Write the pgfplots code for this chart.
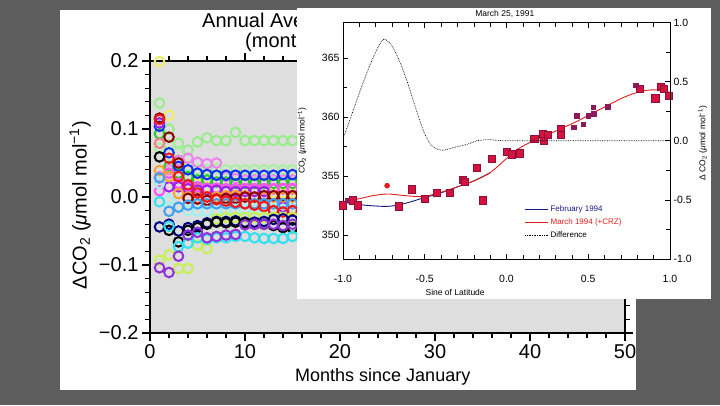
\documentclass[border=0pt]{standalone}
\usepackage{fontspec}
\setmainfont{Liberation Sans}
\usepackage{pgfplots}
\pgfplotsset{compat=1.18}
\definecolor{slidegray}{RGB}{94,94,94}
\definecolor{plotgray}{RGB}{222,222,222}
\definecolor{cyellow}{HTML}{EDED6A}
\definecolor{clgreen}{HTML}{98EC8C}
\definecolor{cmaroon}{HTML}{8B0000}
\definecolor{cred}{HTML}{F01818}
\definecolor{cpurple}{HTML}{A020F0}
\definecolor{cblue}{HTML}{1030F0}
\definecolor{cgreen}{HTML}{28C828}
\definecolor{csalmon}{HTML}{F08080}
\definecolor{clgreentwo}{HTML}{A8F0A0}
\definecolor{corange}{HTML}{FFA030}
\definecolor{cpink}{HTML}{EE82EE}
\definecolor{cskyblue}{HTML}{40A0F0}
\definecolor{cmagenta}{HTML}{FF50FF}
\definecolor{ccyan}{HTML}{30E0F0}
\definecolor{clcyan}{HTML}{A0F0F0}
\definecolor{cnavy}{HTML}{000080}
\definecolor{cygreen}{HTML}{C8F050}
\definecolor{cpurpletwo}{HTML}{9030D8}
\definecolor{febnavy}{HTML}{1A1A80}
\definecolor{marred}{HTML}{E0201C}
\definecolor{sqfill}{HTML}{D4143C}
\definecolor{sqdraw}{HTML}{8B1040}
\definecolor{smsq}{HTML}{8B1A5A}
\begin{document}
\begin{tikzpicture}
\useasboundingbox (0pt,0pt) rectangle (720pt,405pt);
\fill[slidegray] (0pt,0pt) rectangle (720pt,405pt);
\fill[white] (60pt,15pt) rectangle (636pt,395pt);
\node[anchor=west, font=\fontsize{20}{24}\selectfont, inner sep=0pt] at (202pt,383pt) {Annual Average Offsets};
\node[anchor=west, font=\fontsize{20}{24}\selectfont, inner sep=0pt] at (245pt,363pt) {(monthly means)};
\begin{axis}[
  at={(150pt,72pt)}, anchor=south west, scale only axis,
  width=475pt, height=272pt,
  xmin=0, xmax=50, ymin=-0.2, ymax=0.2,
  axis background/.style={fill=plotgray},
  xtick={0,10,20,30,40,50}, minor x tick num=4,
  ytick={-0.2,-0.1,0,0.1,0.2}, minor y tick num=4,
  yticklabels={−0.2,−0.1,0.0,0.1,0.2},
  tick align=outside,
  major tick length=8pt, minor tick length=5pt,
  axis line style={line width=1.2pt},
  every tick/.style={line width=1.2pt, black},
  ticklabel style={font=\fontsize{20}{24}\selectfont},
  /pgf/number format/assume math mode=true,
  xlabel={Months since January},
  ylabel={ΔCO\textsubscript{2} (\textit{μ}mol mol\textsuperscript{−1})},
  xlabel style={font=\fontsize{18}{22}\selectfont, at={(axis description cs:0.49,-0.162)}, anchor=center},
  ylabel style={font=\fontsize{20}{24}\selectfont, at={(axis description cs:-0.147,0.47)}, anchor=center},
  every axis plot/.append style={only marks, mark=o, mark size=4.8pt, line width=2pt},
  clip=true,
]
\addplot[cyellow] coordinates {(1,.199)(2,.120)(3,.052)(4,.030)(5,.020)(6,.015)(7,.012)(8,.010)(9,.010)(10,.008)(11,.008)(12,.008)(13,.006)(14,.006)(15,.006)(16,.006)};
\addplot[clgreen] coordinates {(1,.138)(2,.100)(3,.079)(4,.069)(5,.081)(6,.087)(7,.083)(8,.083)(9,.095)(10,.083)(11,.083)(12,.083)(13,.083)(14,.083)(15,.083)(16,.083)};
\addplot[clgreentwo] coordinates {(1,.072)(2,.077)(3,.065)(4,.045)(5,.040)(6,.040)(7,.042)(8,.040)(9,.040)(10,.040)(11,.040)(12,.040)(13,.040)(14,.040)(15,.040)(16,.040)};
\addplot[cpink] coordinates {(1,.030)(2,.040)(3,.054)(4,.057)(5,.051)(6,.049)(7,.050)(8,.030)(9,.027)(10,.025)(11,.025)(12,.025)(13,.025)(14,.025)(15,.025)(16,.025)};
\addplot[cgreen] coordinates {(1,.093)(2,.045)(3,.035)(4,.030)(5,.025)(6,.025)(7,.022)(8,.022)(9,.020)(10,.020)(11,.020)(12,.020)(13,.020)(14,.020)(15,.020)(16,.020)};
\addplot[cblue] coordinates {(1,.104)(2,.065)(3,.045)(4,.040)(5,.035)(6,.033)(7,.032)(8,.032)(9,.032)(10,.032)(11,.032)(12,.032)(13,.032)(14,.033)(15,.033)(16,.033)};
\addplot[csalmon] coordinates {(1,.079)(2,.035)(3,.020)(4,.015)(5,.012)(6,.012)(7,.012)(8,.012)(9,.012)(10,.012)(11,.012)(12,.012)(13,.012)(14,.012)(15,.012)(16,.012)};
\addplot[cmagenta] coordinates {(1,.009)(2,.035)(3,.020)(4,.015)(5,.015)(6,.013)(7,.013)(8,.012)(9,.012)(10,.012)(11,.012)(12,.012)(13,.012)(14,.012)(15,.012)(16,.012)};
\addplot[cpurple] coordinates {(1,.109)(2,.015)(3,.015)(4,.012)(5,.010)(6,.010)(7,.010)(8,.008)(9,.008)(10,.008)(11,.008)(12,.008)(13,-.019)(14,-.015)(15,-.018)(16,-.018)};
\addplot[corange] coordinates {(1,.039)(2,.030)(3,.005)(4,.000)(5,-.002)(6,.000)(7,.000)(8,.002)(9,.002)(10,.002)(11,.000)(12,.000)(13,.000)(14,.000)(15,.000)(16,.000)};
\addplot[cmaroon] coordinates {(1,.116)(2,.088)(3,.050)(4,-.002)(5,-.003)(6,-.005)(7,-.003)(8,-.002)(9,-.002)(10,.000)(11,.000)(12,.002)(13,.002)(14,.002)(15,.002)(16,.002)};
\addplot[clcyan] coordinates {(1,.020)(2,-.004)(3,-.015)(4,-.020)(5,-.021)(6,-.021)(7,-.021)(8,-.018)(9,-.018)(10,-.018)(11,-.018)(12,-.018)(13,-.018)(14,-.018)(15,-.018)(16,-.018)};
\addplot[cskyblue] coordinates {(1,.028)(2,-.021)(3,-.015)(4,-.012)(5,-.010)(6,-.010)(7,-.010)(8,-.010)(9,-.010)(10,-.010)(11,-.010)(12,-.010)(13,-.010)(14,-.010)(15,-.010)(16,-.010)};
\addplot[cred] coordinates {(1,.114)(2,.057)(3,.030)(4,.018)(5,.006)(6,.000)(7,-.004)(8,-.006)(9,-.008)(10,-.010)(11,-.012)(12,-.014)(13,-.020)(14,-.022)(15,-.020)(16,-.021)};
\addplot[cygreen] coordinates {(1,-.093)(2,-.085)(3,-.105)(4,-.105)(5,-.071)(6,-.076)(7,-.032)(8,-.030)(9,-.030)(10,-.030)(11,-.030)(12,-.030)(13,-.030)(14,-.030)(15,-.030)(16,-.030)};
\addplot[cnavy] coordinates {(1,-.044)(2,-.040)(3,-.050)(4,-.045)(5,-.042)(6,-.038)(7,-.036)(8,-.036)(9,-.035)(10,-.037)(11,-.037)(12,-.036)(13,-.033)(14,-.032)(15,-.034)(16,-.034)};
\addplot[black] coordinates {(1,.059)(2,-.049)(3,-.066)(4,-.049)(5,-.045)(6,-.040)(7,-.037)(8,-.038)(9,-.037)(10,-.038)(11,-.040)(12,-.040)(13,-.042)(14,-.045)(15,-.045)(16,-.045)};
\addplot[ccyan] coordinates {(1,-.007)(2,-.043)(3,-.073)(4,-.068)(5,-.060)(6,-.062)(7,-.060)(8,-.060)(9,-.058)(10,-.058)(11,-.060)(12,-.061)(13,-.061)(14,-.061)(15,-.058)(16,-.060)};
\addplot[cpurpletwo] coordinates {(1,-.104)(2,-.111)(3,-.087)(4,-.056)(5,-.052)(6,-.060)(7,-.058)(8,-.056)(9,-.055)(10,-.041)(11,-.040)(12,-.040)(13,-.040)(14,-.042)(15,-.040)(16,-.040)};
\end{axis}
% overlaid right panel
\fill[white] (297pt,106pt) rectangle (711pt,397pt);
\begin{axis}[
  at={(343pt,146pt)}, anchor=south west, scale only axis,
  width=327pt, height=236.5pt,
  xmin=-1, xmax=1, ymin=348, ymax=368,
  xtick={-1,-0.5,0,0.5,1}, xticklabels={-1.0,-0.5,0.0,0.5,1.0},
  minor x tick num=4,
  ytick={350,355,360,365}, minor y tick num=1,
  ytick pos=left, xtick pos=both, xticklabel pos=bottom,
  tick align=inside,
  major tick length=5pt, minor tick length=4pt,
  axis line style={line width=0.6pt},
  every tick/.style={line width=0.6pt, black},
  ticklabel style={font=\fontsize{10.5}{12}\selectfont},
  xticklabel style={yshift=-13pt},
  /pgf/number format/assume math mode=true,
  xlabel={Sine of Latitude},
  ylabel={CO\textsubscript{2} (\textit{μ}mol mol\textsuperscript{−1})},
  xlabel style={font=\fontsize{8.5}{10}\selectfont, at={(axis description cs:0.343,-0.14)}, anchor=center},
  ylabel style={font=\fontsize{8.5}{10}\selectfont, at={(axis description cs:-0.125,0.50)}, anchor=center},
  title={March 25, 1991},
  title style={font=\fontsize{8.5}{10}\selectfont, at={(axis description cs:0.495,1.01)}, anchor=center},
  legend style={draw=none, fill=none, at={(axis description cs:0.555,0.235)}, anchor=north west,
    font=\fontsize{8}{9.5}\selectfont, row sep=1.5pt, inner sep=0pt},
  legend cell align=left,
  legend image code/.code={\draw[#1] (0pt,0pt) -- (23pt,0pt);},
]
\addplot[febnavy, line width=0.9pt, smooth] coordinates {(-1.0,352.8)(-0.9,352.6)(-0.82,352.5)(-0.73,352.45)(-0.65,352.6)(-0.57,352.9)(-0.5,353.2)(-0.41,353.55)(-0.3,354.1)(-0.2,354.6)(-0.1,355.3)};
\addlegendentry{\textcolor{febnavy}{February 1994}}
\addplot[marred, line width=0.9pt, smooth] coordinates {(-1.0,352.85)(-0.9,353.1)(-0.82,353.35)(-0.73,353.5)(-0.65,353.4)(-0.57,353.3)(-0.5,353.3)(-0.41,353.6)(-0.3,354.1)(-0.2,354.6)(-0.1,355.3)(0.0,356.5)(0.07,357.3)(0.15,357.9)(0.235,358.4)(0.33,359.0)(0.44,359.7)(0.52,360.3)(0.6,360.85)(0.706,361.6)(0.78,362.0)(0.85,362.25)(0.92,362.3)(1.0,362.1)};
\addlegendentry{\textcolor{marred}{March 1994 (+CRZ)}}
\addlegendimage{black, densely dotted, line width=0.7pt}
\addlegendentry{Difference}
\addplot[forget plot, only marks, mark=square*, mark size=3.6pt, mark options={fill=sqfill, draw=sqdraw, line width=0.5pt}] coordinates {
(-1.0,352.54)(-0.94,352.97)(-0.908,352.54)(-0.657,352.46)(-0.578,353.9)(-0.50,353.1)(-0.425,353.6)(-0.346,353.6)(-0.266,354.7)(-0.254,354.5)(-0.18,355.7)(-0.144,352.97)(-0.09,356.5)(0.0,357.1)(0.03,356.85)(0.083,356.95)(0.17,358.2)(0.223,358.6)(0.23,357.97)(0.254,358.5)(0.333,359.0)(0.333,358.5)(0.817,362.4)(0.91,361.6)(0.945,362.6)(0.963,362.4)(0.99,361.8)};
\addplot[forget plot, only marks, mark=square*, mark size=2.3pt, mark options={fill=smsq, draw=smsq}] coordinates {
(-0.975,352.97)(0.41,359.15)(0.43,360.1)(0.468,359.4)(0.50,360.1)(0.53,360.85)(0.535,360.3)(0.62,360.9)(0.79,362.7)};
\addplot[forget plot, only marks, mark=*, mark size=2.6pt, mark options={fill=marred, draw=marred}] coordinates {(-0.73,354.2)};
\end{axis}
\begin{axis}[
  at={(343pt,146pt)}, anchor=south west, scale only axis,
  width=327pt, height=236.5pt,
  xmin=-1, xmax=1, ymin=-1, ymax=1,
  axis x line=none, axis y line*=right,
  ytick={-1,-0.5,0,0.5,1}, yticklabels={-1.0,-0.5,0.0,0.5,1.0},
  minor y tick num=1,
  tick align=inside,
  major tick length=5pt, minor tick length=4pt,
  axis line style={line width=0.6pt},
  every tick/.style={line width=0.6pt, black},
  ticklabel style={font=\fontsize{10.5}{12}\selectfont},
  /pgf/number format/assume math mode=true,
  ylabel={Δ CO\textsubscript{2} (\textit{μ}mol mol\textsuperscript{−1})},
  ylabel style={font=\fontsize{8.5}{10}\selectfont, at={(axis description cs:1.10,0.49)}, anchor=center, rotate=0},
]
\addplot[black, densely dotted, line width=0.7pt, smooth] coordinates {(-1.0,0.02)(-0.957,0.18)(-0.896,0.42)(-0.835,0.64)(-0.786,0.79)(-0.749,0.86)(-0.70,0.80)(-0.65,0.66)(-0.60,0.47)(-0.547,0.24)(-0.498,0.05)(-0.45,-0.05)(-0.395,-0.08)(-0.33,-0.06)(-0.24,-0.03)(-0.18,0.0)(-0.10,0.01)(0.0,0.0)(0.5,0.0)(1.0,0.0)};
\end{axis}
\end{tikzpicture}
\end{document}
